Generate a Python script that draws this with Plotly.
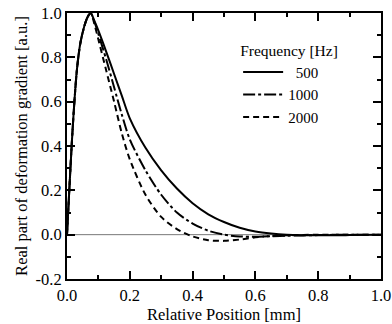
import plotly.graph_objects as go

x = [0, 0.008, 0.016, 0.024, 0.032, 0.042, 0.055, 0.065, 0.075, 0.09, 0.1, 0.125, 0.15, 0.175, 0.2,
     0.25, 0.3, 0.35, 0.4, 0.45, 0.5, 0.55, 0.6, 0.65, 0.7, 0.8, 0.9, 1.0]
y500 = [0, 0.22, 0.43, 0.61, 0.75, 0.86, 0.94, 0.98, 1.0, 0.955, 0.92, 0.825, 0.725, 0.625, 0.525,
        0.392, 0.29, 0.208, 0.142, 0.092, 0.057, 0.031, 0.014, 0.005, 0.0, -0.003, -0.002, 0.0]
y1000 = [0, 0.22, 0.43, 0.61, 0.75, 0.86, 0.94, 0.98, 1.0, 0.95, 0.905, 0.79, 0.665, 0.54, 0.43,
         0.29, 0.18, 0.10, 0.05, 0.018, 0.0, -0.008, -0.009, -0.007, -0.005, -0.002, 0.0, 0.0]
y2000 = [0, 0.22, 0.43, 0.61, 0.75, 0.86, 0.94, 0.98, 1.0, 0.935, 0.88, 0.74, 0.60, 0.455, 0.34,
         0.18, 0.08, 0.025, -0.008, -0.025, -0.028, -0.022, -0.012, -0.006, -0.003, 0.0, 0.0, 0.0]
names = ["\u2007500", "1000", "2000"]
xticks = [0.0, 0.2, 0.4, 0.6, 0.8, 1.0]
xticklabels = ["0.0", "0.2", "0.4", "0.6", "0.8", "1.0"]
yticks = [-0.2, 0.0, 0.2, 0.4, 0.6, 0.8, 1.0]
yticklabels = ["-0.2", "0.0", "0.2", "0.4", "0.6", "0.8", "1.0"]

FONT = "Liberation Serif"
FS = 16.5
fig = go.Figure()
fig.add_trace(go.Scatter(x=[0, 1], y=[0, 0], mode="lines",
                         line=dict(color="#777777", width=1), showlegend=False, hoverinfo="skip"))
for ys, nm, dash in [(y500, names[0], "solid"), (y1000, names[1], "12px,3px,3px,3px"),
                     (y2000, names[2], "6px,4px")]:
    fig.add_trace(go.Scatter(x=x, y=ys, name=nm, mode="lines", line_shape="spline",
                             line=dict(color="black", width=2, dash=dash, smoothing=0.8)))

axis_common = dict(showline=True, linecolor="black", linewidth=2, mirror="allticks",
                   ticks="inside", ticklen=8, tickwidth=2, tickcolor="black",
                   showgrid=False, zeroline=False, automargin=False,
                   tickfont=dict(family=FONT, size=FS, color="black"),
                   minor=dict(ticks="inside", ticklen=4, tickwidth=1.5, tickcolor="black", dtick=0.1))

fig.update_xaxes(range=[0, 1], tickmode="array", tickvals=xticks, ticktext=xticklabels,
                 title=dict(text="Relative Position [mm]", font=dict(family=FONT, size=FS, color="black"),
                            standoff=2), **axis_common)
fig.update_yaxes(range=[-0.2, 1.0], tickmode="array", tickvals=yticks, ticktext=yticklabels,
                 title=dict(text="Real part of deformation gradient [a.u.]",
                            font=dict(family=FONT, size=FS, color="black"), standoff=4), **axis_common)

fig.update_layout(
    width=392, height=324,
    margin=dict(l=67, r=11, t=13, b=45),
    plot_bgcolor="white", paper_bgcolor="white",
    legend=dict(x=0.545, y=0.915, xanchor="left", yanchor="top",
                title=dict(text="Frequency [Hz]", font=dict(family=FONT, size=15.5, color="black")),
                font=dict(family=FONT, size=15, color="black"),
                bgcolor="rgba(0,0,0,0)", tracegroupgap=0, itemwidth=40),
)
fig.write_html("out.html")
